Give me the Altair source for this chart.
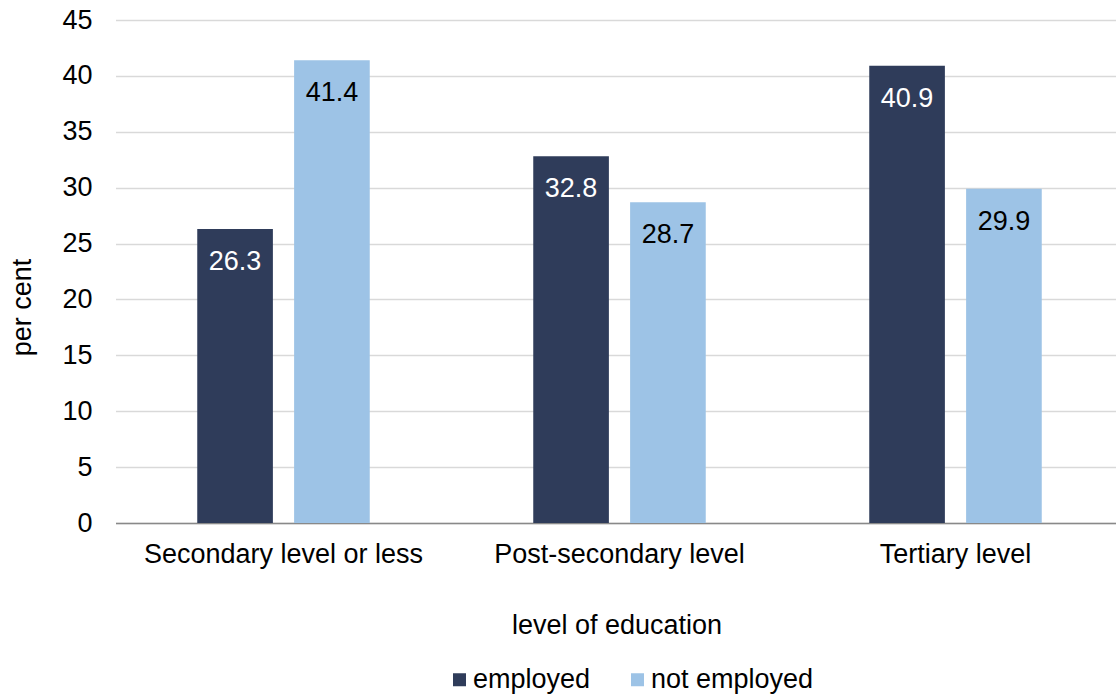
import altair as alt
import pandas as pd

categories = ["Secondary level or less", "Post-secondary level", "Tertiary level"]
series = ["employed", "not employed"]
employed = [26.3, 32.8, 40.9]
not_employed = [41.4, 28.7, 29.9]

rows = []
for c, e, n in zip(categories, employed, not_employed):
    rows.append({"cat": c, "series": "employed", "value": e})
    rows.append({"cat": c, "series": "not employed", "value": n})
df = pd.DataFrame(rows)

FONT = "Liberation Sans"
FS = 27
colors = ["#2F3C5A", "#9DC3E6"]

x = alt.X("cat:N", sort=categories, title="level of education",
          scale=alt.Scale(paddingInner=0, paddingOuter=0, range=[-1.5, 1006.5]),
          axis=alt.Axis(labelAngle=0, labelFontSize=FS, titleFontSize=FS,
                        labelFont=FONT, titleFont=FONT, labelColor="#000000",
                        titleColor="#000000", titleFontWeight="normal",
                        labelLimit=0, ticks=False, labelPadding=18, titlePadding=45,
                        titleX=499.5,
                        domainColor="#898989", domainWidth=1.5, grid=False))
xoff = alt.XOffset("series:N", sort=series,
                   scale=alt.Scale(paddingInner=0.219, paddingOuter=0.844))
y = alt.Y("value:Q", title="per cent",
          scale=alt.Scale(domain=[0, 45], nice=False),
          axis=alt.Axis(values=list(range(0, 46, 5)), labelFontSize=FS, titleFontSize=FS,
                        labelFont=FONT, titleFont=FONT, labelColor="#000000",
                        titleColor="#000000", titleFontWeight="normal",
                        titleX=-87, titleY=287, titleAngle=270,
                        titleBaseline="alphabetic", titleAlign="center",
                        ticks=False, domain=False, labelPadding=25,
                        gridColor="#d9d9d9", gridWidth=1.5))

bars = alt.Chart(df).mark_bar().encode(
    x=x, xOffset=xoff, y=y,
    color=alt.Color("series:N", sort=series,
                    scale=alt.Scale(domain=series, range=colors),
                    legend=alt.Legend(title=None, orient="none", direction="horizontal",
                                      legendX=329, legendY=646, labelFontSize=FS,
                                      labelFont=FONT, labelColor="#000000", labelLimit=0,
                                      symbolType="square", symbolSize=169,
                                      symbolStrokeWidth=0, columnPadding=33,
                                      labelOffset=0))
)

text = alt.Chart(df).mark_text(fontSize=FS, font=FONT, baseline="middle", dy=33).encode(
    x=alt.X("cat:N", sort=categories), xOffset=alt.XOffset("series:N", sort=series),
    y=alt.Y("value:Q"),
    text=alt.Text("value:Q", format=".1f"),
    color=alt.condition("datum.series == 'employed'", alt.value("#ffffff"), alt.value("#000000")),
)

chart = alt.layer(bars, text).properties(
    width=999, height=503,
    autosize=alt.AutoSizeParams(type="none"),
    padding={"left": 117, "top": 20, "right": 0, "bottom": 174},
    background="#ffffff",
).configure_view(stroke=None)

chart.save("out.html", embed_options={"renderer": "svg", "actions": False})
